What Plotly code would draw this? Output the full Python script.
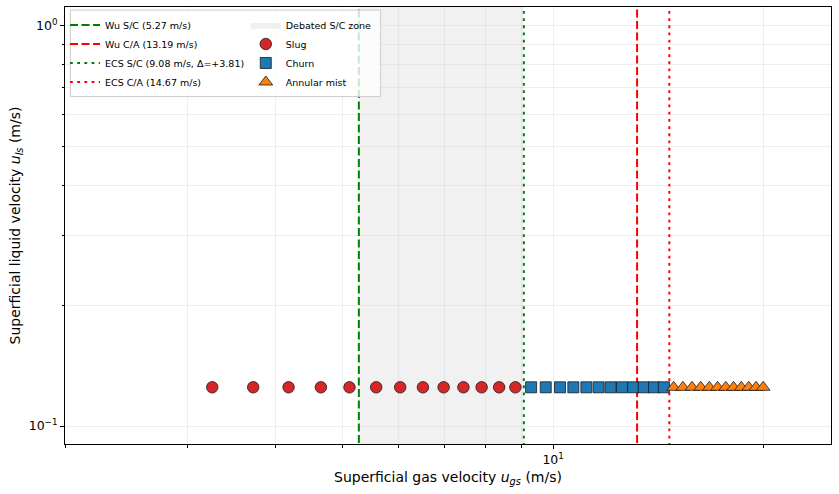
import math
import plotly.graph_objects as go

# ---- data ----
u_ls = 0.125
slug_ugs = [3.25, 3.72, 4.18, 4.65, 5.11, 5.58, 6.04, 6.51, 6.97, 7.44, 7.90, 8.37, 8.83]
churn_ugs = [9.30, 9.76, 10.23, 10.69, 11.16, 11.62, 12.09, 12.55, 13.02, 13.48, 13.95, 14.41]
annular_ugs = [14.88, 15.34, 15.81, 16.27, 16.74, 17.20, 17.67, 18.13, 18.60, 19.06, 19.53, 19.99]

wu_sc = 5.27
wu_ca = 13.19
ecs_sc = 9.08
ecs_ca = 14.67
delta = 3.81

x_range = [2.0, 25.0]
y_range = [0.0902, 1.115]
x_major = [10]
x_major_text = ["10<sup>1</sup>"]
x_minor = [2, 3, 4, 5, 6, 7, 8, 9, 20]
y_major = [0.1, 1]
y_major_text = ["10<sup>\u22121</sup>", "10<sup>0</sup>"]
y_minor = [0.2, 0.3, 0.4, 0.5, 0.6, 0.7, 0.8, 0.9]

FONT = "DejaVu Sans"
DASH = "8px,3.5px"
DOT = "2.8px,4.4px"

fig = go.Figure()

ylo, yhi = 0.05, 2.0

# shaded zone
fig.add_trace(go.Scatter(
    x=[wu_sc, ecs_sc, ecs_sc, wu_sc, wu_sc], y=[ylo, ylo, yhi, yhi, ylo],
    fill="toself", fillcolor="rgba(200,200,200,0.25)", line=dict(width=0),
    mode="lines", name="Debated S/C zone", legend="legend2", hoverinfo="skip"))

def vline(x, color, dash, name):
    fig.add_trace(go.Scatter(
        x=[x, x], y=[ylo, yhi], mode="lines",
        line=dict(color=color, width=2, dash=dash), name=name, legend="legend"))

vline(wu_sc, "#008000", DASH, f"Wu S/C ({wu_sc:.2f} m/s)")
vline(wu_ca, "#ff0000", DASH, f"Wu C/A ({wu_ca:.2f} m/s)")
vline(ecs_sc, "#008000", DOT, f"ECS S/C ({ecs_sc:.2f} m/s, \u0394=+{delta:.2f})")
vline(ecs_ca, "#ff0000", DOT, f"ECS C/A ({ecs_ca:.2f} m/s)")

mk_line = dict(color="#1a1a1a", width=0.8)
fig.add_trace(go.Scatter(x=slug_ugs, y=[u_ls] * len(slug_ugs), mode="markers",
                         marker=dict(symbol="circle", size=11.5, color="#d62728", line=mk_line),
                         name="Slug", legend="legend2"))
fig.add_trace(go.Scatter(x=churn_ugs, y=[u_ls] * len(churn_ugs), mode="markers",
                         marker=dict(symbol="square", size=11, color="#1f77b4", line=mk_line),
                         name="Churn", legend="legend2"))
fig.add_trace(go.Scatter(x=annular_ugs, y=[u_ls] * len(annular_ugs), mode="markers",
                         marker=dict(symbol="triangle-up", size=12, color="#ff7f0e", line=mk_line),
                         name="Annular mist", legend="legend2"))

grid_c = "rgba(176,176,176,0.2)"
axis_common = dict(
    type="log", showline=True, linecolor="black", linewidth=1, mirror=True,
    ticks="outside", ticklen=4, tickwidth=1, tickcolor="black",
    showgrid=True, gridcolor=grid_c, gridwidth=1, zeroline=False,
    tickfont=dict(family=FONT, size=12.5, color="black"),
)

fig.update_xaxes(
    **axis_common,
    range=[math.log10(x_range[0]), math.log10(x_range[1])],
    tickmode="array", tickvals=x_major, ticktext=x_major_text,
    minor=dict(tickmode="array", tickvals=x_minor, ticklen=2.5, tickcolor="black",
               showgrid=True, gridcolor=grid_c),
    title=dict(text="Superficial gas velocity <i>u</i><sub><i>gs</i></sub> (m/s)",
               font=dict(family=FONT, size=14, color="black"), standoff=6),
)
fig.update_yaxes(
    **axis_common,
    range=[math.log10(y_range[0]), math.log10(y_range[1])],
    tickmode="array", tickvals=y_major, ticktext=y_major_text,
    minor=dict(tickmode="array", tickvals=y_minor, ticklen=2.5, tickcolor="black",
               showgrid=True, gridcolor=grid_c),
    title=dict(text="Superficial liquid velocity <i>u</i><sub><i>ls</i></sub> (m/s)",
               font=dict(family=FONT, size=14, color="black"), standoff=4),
)

leg_font = dict(family=FONT, size=9.5, color="black")
fig.update_layout(
    width=839, height=494,
    margin=dict(l=65, r=8, t=7, b=50),
    plot_bgcolor="white", paper_bgcolor="white",
    font=dict(family=FONT, color="black"),
    legend=dict(x=0.0, y=0.992, xanchor="left", yanchor="top", font=leg_font,
                bgcolor="rgba(0,0,0,0)", borderwidth=0, itemwidth=30,
                tracegroupgap=0),
    legend2=dict(x=0.236, y=0.992, xanchor="left", yanchor="top", font=leg_font,
                 bgcolor="rgba(0,0,0,0)", borderwidth=0, itemwidth=30,
                 tracegroupgap=0),
    shapes=[dict(type="rect", xref="paper", yref="paper", x0=0.007, x1=0.412,
                 y0=0.795, y1=0.993, layer="above",
                 fillcolor="rgba(255,255,255,0.8)", line=dict(color="#cccccc", width=1))],
)

fig.write_html("out.html")
